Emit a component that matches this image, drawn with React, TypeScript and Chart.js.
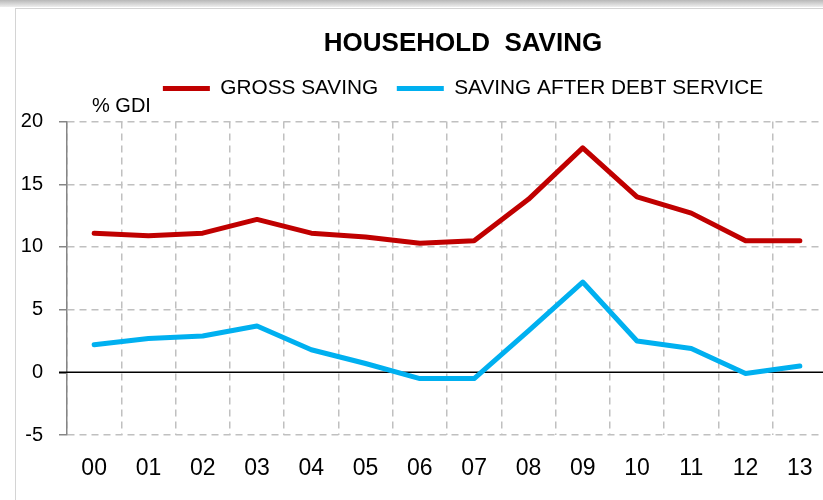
import React, { useEffect, useRef } from "react";
import { Chart, registerables } from "chart.js";

Chart.register(...registerables);

const years = ["00", "01", "02", "03", "04", "05", "06", "07", "08", "09", "10", "11", "12", "13"];
const grossSaving = [11.1, 10.9, 11.1, 12.2, 11.1, 10.8, 10.3, 10.5, 13.8, 17.9, 14.0, 12.7, 10.5, 10.5];
const savingAfterDebt = [2.2, 2.7, 2.9, 3.7, 1.8, 0.7, -0.5, -0.5, 3.3, 7.2, 2.5, 1.9, -0.1, 0.5];
const yMin = -5;
const yMax = 20;
const yStep = 5;

const FONT = '"Liberation Sans", Arial, sans-serif';

export default function App() {
  const ref = useRef<HTMLCanvasElement | null>(null);

  useEffect(() => {
    if (!ref.current) return;
    const extras = {
      id: "extras",
      beforeDatasetsDraw(chart: any) {
        const { ctx, chartArea, scales } = chart;
        const y0 = scales.y.getPixelForValue(0);
        ctx.save();
        ctx.strokeStyle = "#000";
        ctx.lineWidth = 1.5;
        ctx.beginPath();
        ctx.moveTo(chartArea.left - 8, y0);
        ctx.lineTo(chartArea.right, y0);
        ctx.stroke();
        ctx.fillStyle = "#000";
        ctx.font = `20px ${FONT}`;
        ctx.textAlign = "left";
        ctx.textBaseline = "middle";
        ctx.fillText("% GDI", chartArea.left + 25, chartArea.top - 15);
        ctx.restore();
      },
    };
    const chart = new Chart(ref.current, {
      type: "line",
      data: {
        labels: years,
        datasets: [
          {
            label: "GROSS SAVING",
            data: grossSaving,
            borderColor: "#C00000",
            backgroundColor: "#C00000",
            borderWidth: 5,
            pointRadius: 0,
            tension: 0,
            borderCapStyle: "round",
            borderJoinStyle: "round",
          },
          {
            label: "SAVING AFTER DEBT SERVICE",
            data: savingAfterDebt,
            borderColor: "#00B0F0",
            backgroundColor: "#00B0F0",
            borderWidth: 5,
            pointRadius: 0,
            tension: 0,
            borderCapStyle: "round",
            borderJoinStyle: "round",
          },
        ],
      },
      options: {
        responsive: false,
        animation: false,
        devicePixelRatio: 1,
        layout: { padding: { left: 0, right: 0, top: 0, bottom: 17 } },
        plugins: {
          title: {
            display: true,
            text: "HOUSEHOLD  SAVING",
            color: "#000",
            font: { family: FONT, size: 26, weight: "bold", lineHeight: 1.2 },
            padding: { top: 19.4, bottom: 0 },
          },
          subtitle: {
            display: true,
            text: "",
            weight: 500,
            font: { size: 10.5, lineHeight: 1.2 },
            padding: 0,
          },
          legend: {
            display: true,
            position: "top",
            labels: {
              usePointStyle: true,
              pointStyle: "line",
              pointStyleWidth: 47,
              color: "#000",
              font: { family: FONT, size: 20.8 },
              padding: 18.6,
            },
          },
          tooltip: { enabled: false },
        },
        scales: {
          x: {
            offset: true,
            afterFit: (scale: any) => {
              scale.height = 48;
            },
            grid: {
              offset: true,
              color: "#c0c0c0",
              lineWidth: 1.5,
              drawTicks: false,
            },
            border: { display: false, dash: [7, 5] },
            ticks: {
              color: "#000",
              font: { family: FONT, size: 23 },
              padding: 20,
              maxRotation: 0,
              autoSkip: false,
            },
          },
          y: {
            min: yMin,
            max: yMax,
            afterFit: (scale: any) => {
              scale.width = 51;
            },
            grid: {
              color: (c: any) => (c.tick && c.tick.value === 0 ? "rgba(0,0,0,0)" : "#c0c0c0"),
              lineWidth: 1.5,
              tickLength: 8,
              tickColor: (c: any) => (c.tick && c.tick.value === 0 ? "#000" : "#868686"),
              tickWidth: 1.5,
            },
            border: { display: true, color: "#868686", width: 1.5, dash: [7, 5] },
            ticks: {
              stepSize: yStep,
              color: "#000",
              font: { family: FONT, size: 20 },
              padding: 16,
            },
          },
          yRight: {
            position: "right",
            min: yMin,
            max: yMax,
            afterFit: (scale: any) => {
              scale.width = 83;
            },
            grid: { display: false, drawTicks: false },
            border: { display: false },
            ticks: { display: false },
          },
        },
      },
      plugins: [extras],
    } as any);
    return () => chart.destroy();
  }, []);

  return (
    <div
      style={{
        position: "fixed",
        left: 0,
        top: 0,
        width: 823,
        height: 500,
        overflow: "hidden",
        background: "#fff",
      }}
    >
      <div
        style={{
          position: "absolute",
          left: 0,
          top: 0,
          width: 823,
          height: 7,
          background: "linear-gradient(#b8b8b8, #eeeeee)",
        }}
      />
      <div
        style={{
          position: "absolute",
          left: 15,
          top: 8,
          width: 900,
          height: 520,
          border: "1px solid #d4d4d4",
          background: "#fff",
        }}
      >
        <canvas
          ref={ref}
          width={894}
          height={491}
          style={{ position: "absolute", left: 0, top: 0, width: 894, height: 491 }}
        />
      </div>
    </div>
  );
}
